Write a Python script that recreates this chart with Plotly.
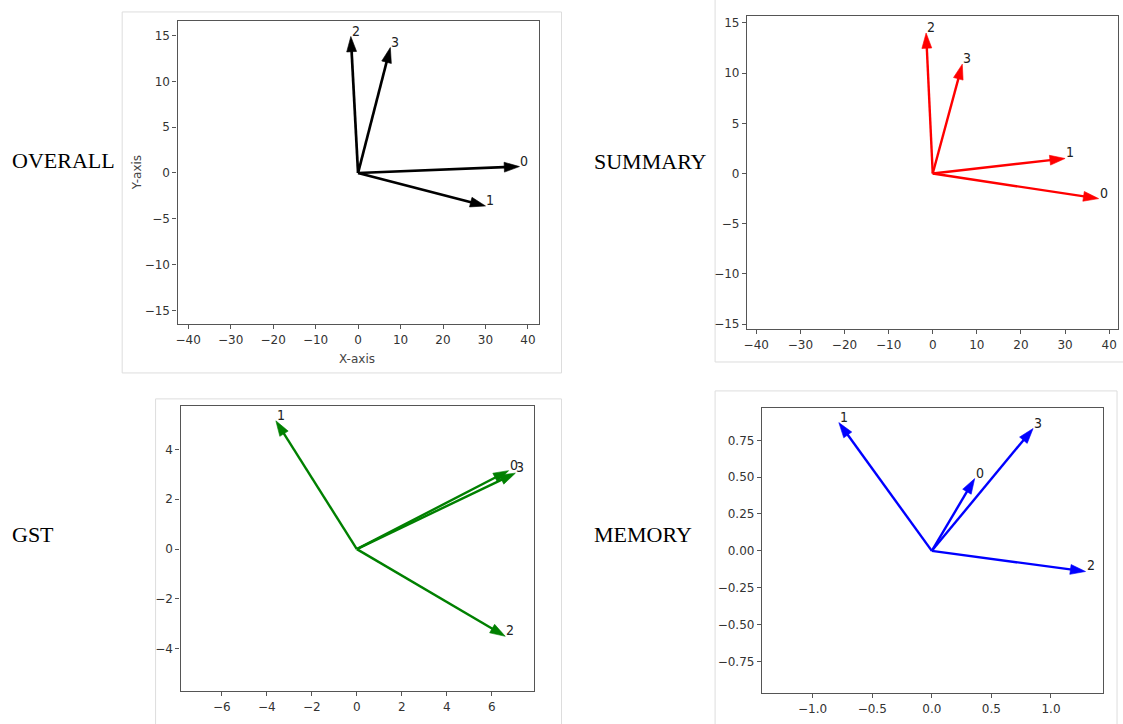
import math
import plotly.graph_objects as go

W, H = 1123, 724

# ---------------- data ----------------
vector_names = ["0", "1", "2", "3"]

overall_x = [38.0, 30.0, -1.7, 7.6]
overall_y = [0.7, -3.6, 14.9, 13.7]

summary_x = [37.6, 30.0, -1.5, 6.7]
summary_y = [-2.5, 1.5, 14.0, 10.9]

gst_x = [6.75, -3.6, 6.6, 7.05]
gst_y = [3.15, 5.15, -3.5, 3.05]

memory_x = [0.36, -0.78, 1.29, 0.85]
memory_y = [0.49, 0.87, -0.14, 0.83]

panel_names = ["OVERALL", "SUMMARY", "GST", "MEMORY"]
panel_colors = ["black", "red", "green", "blue"]

big_xticks = [-40, -30, -20, -10, 0, 10, 20, 30, 40]
big_yticks = [-15, -10, -5, 0, 5, 10, 15]
gst_xticks = [-6, -4, -2, 0, 2, 4, 6]
gst_yticks = [-4, -2, 0, 2, 4]
mem_xticks = [-1.0, -0.5, 0.0, 0.5, 1.0]
mem_yticks = [-0.75, -0.50, -0.25, 0.00, 0.25, 0.50, 0.75]


def fmt(v, d):
    s = f"{abs(v):.{d}f}"
    return ("\u2212" + s) if v < 0 else s


# ---------------- layout geometry (pixels) ----------------
panels = [
    dict(vx=overall_x, vy=overall_y, box=(175, 537, 21, 325),
         xr=[-42.5, 42.5], yr=[-16.5, 16.6], xt=big_xticks, yt=big_yticks, xd=0, yd=0, lw=2.7),
    dict(vx=summary_x, vy=summary_y, box=(746, 1118, 16, 330),
         xr=[-42.1, 42.0], yr=[-15.5, 15.7], xt=big_xticks, yt=big_yticks, xd=0, yd=0, lw=2.4),
    dict(vx=gst_x, vy=gst_y, box=(178, 532, 407, 693),
         xr=[-7.84, 7.86], yr=[-5.7, 5.75], xt=gst_xticks, yt=gst_yticks, xd=0, yd=0, lw=2.4),
    dict(vx=memory_x, vy=memory_y, box=(761, 1103, 409, 695),
         xr=[-1.425, 1.437], yr=[-0.965, 0.97], xt=mem_xticks, yt=mem_yticks, xd=1, yd=2, lw=2.4),
]
label_pos = [(7, 161), (591, 162), (7, 536), (591, 536)]

fig = go.Figure()
layout = dict(
    width=W, height=H,
    margin=dict(l=0, r=0, t=0, b=0),
    paper_bgcolor="white", plot_bgcolor="white",
    showlegend=False,
)
annotations = []
shapes = []

tick_font = dict(family="DejaVu Sans", size=12, color="#333333")
spine = "#555555"

for i, p in enumerate(panels):
    n = "" if i == 0 else str(i + 1)
    xa, ya = "x" + n, "y" + n
    x0, x1, y0, y1 = p["box"]
    color = panel_colors[i]
    axis_common = dict(
        showgrid=False, zeroline=False, showline=True, mirror=True,
        linecolor=spine, linewidth=1.3, ticks="outside", ticklen=4,
        tickwidth=1, tickcolor=spine, tickfont=tick_font, fixedrange=True,
    )
    layout["xaxis" + n] = dict(
        axis_common, domain=[x0 / W, x1 / W], range=p["xr"], anchor=ya,
        tickmode="array", tickvals=p["xt"], ticktext=[fmt(v, p["xd"]) for v in p["xt"]],
    )
    layout["yaxis" + n] = dict(
        axis_common, domain=[1 - y1 / H, 1 - y0 / H], range=p["yr"], anchor=xa,
        tickmode="array", tickvals=p["yt"], ticktext=[fmt(v, p["yd"]) for v in p["yt"]],
    )
    kx = (x1 - x0) / (p["xr"][1] - p["xr"][0])
    ky = (y1 - y0) / (p["yr"][1] - p["yr"][0])
    head = 16.0
    for vx, vy, name in zip(p["vx"], p["vy"], vector_names):
        L = math.hypot(vx * kx, vy * ky)
        f = max(0.0, (L - 8.0) / L)
        fig.add_trace(go.Scatter(
            x=[0, vx * f], y=[0, vy * f], xaxis=xa, yaxis=ya, mode="lines",
            line=dict(color=color, width=p["lw"]), hoverinfo="skip",
        ))
        fig.add_trace(go.Scatter(
            x=[0, vx], y=[0, vy], xaxis=xa, yaxis=ya, mode="markers",
            marker=dict(symbol="arrow", size=[0, head], angleref="previous", opacity=1,
                        color=color, line=dict(width=0.6, color=color)),
            hoverinfo="skip",
        ))
        annotations.append(dict(
            x=vx, y=vy, xref=xa, yref=ya, text=name, showarrow=False,
            xanchor="left", yanchor="bottom", xshift=-1, yshift=-4,
            font=dict(family="DejaVu Sans Condensed, DejaVu Sans", size=14, color="#222222"),
        ))
    lx, ly = label_pos[i]
    annotations.append(dict(
        x=lx / W, y=1 - ly / H, xref="paper", yref="paper", text=panel_names[i],
        showarrow=False, xanchor="left", yanchor="middle",
        font=dict(family="Liberation Serif", size=22, color="black"),
    ))

# axis titles of the first panel
annotations.append(dict(x=355 / W, y=1 - 360 / H, xref="paper", yref="paper", text="X-axis",
                        showarrow=False, xanchor="center", yanchor="middle",
                        font=dict(family="DejaVu Sans", size=12, color="#444444")))
annotations.append(dict(x=134 / W, y=1 - 173 / H, xref="paper", yref="paper", text="Y-axis",
                        showarrow=False, xanchor="center", yanchor="middle", textangle=-90,
                        font=dict(family="DejaVu Sans", size=12, color="#444444")))

# light frames of the pasted screenshots
frames = [(119.5, 560, 12, 374), (714, 1130, -5, 363), (153, 560, 400, 730), (714, 1117, 392, 730)]
for fx0, fx1, fy0, fy1 in frames:
    shapes.append(dict(type="rect", xref="paper", yref="paper",
                       x0=fx0 / W, x1=fx1 / W, y0=1 - fy1 / H, y1=1 - fy0 / H,
                       line=dict(color="#dddddd", width=1), layer="below"))

layout["annotations"] = annotations
layout["shapes"] = shapes
fig.update_layout(**layout)

fig.write_html("out.html", post_script="document.body.style.margin='0';", config={"displayModeBar": False})
